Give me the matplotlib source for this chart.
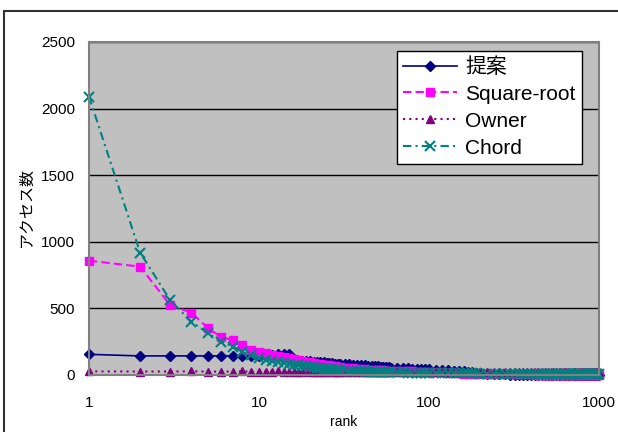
import numpy as np
import matplotlib.pyplot as plt
from matplotlib.patches import Rectangle

plt.rcParams['font.family'] = ['Liberation Sans', 'Noto Sans CJK JP', 'DejaVu Sans']

# rank (sumbu x)
rank = np.concatenate([np.arange(1, 31), np.arange(32, 61, 2), np.arange(65, 101, 5),
                       np.arange(110, 201, 10), np.arange(220, 1001, 20)])

teian = [155, 143, 143, 143, 143, 143, 143, 143, 143, 143, 145, 148, 155, 160, 158,
         120, 105, 104, 103, 102, 100, 98, 96, 94, 92, 90, 88, 86, 85, 84,
         82, 80, 78, 76, 74, 72, 70, 68, 66, 64, 62, 60, 58, 57, 56,
         54, 52, 50, 48, 46, 45, 44, 42,
         40, 38, 35, 32, 30, 27, 24, 20, 16, 12,
         8, 6, 5, 4, 3, 3, 2, 2, 2, 2, 2, 2, 1, 1, 1, 1, 1, 1, 1, 1,
         1, 1, 1, 1, 1, 1, 1, 1, 1, 1, 1, 1, 1, 1, 1, 1, 1, 1, 1, 1]

square_root = [858, 813, 525, 468, 353, 283, 263, 225, 188, 175, 163, 152, 142, 133, 125,
               118, 112, 106, 100, 95, 90, 86, 82, 78, 75, 72, 69, 66, 63, 60,
               56, 53, 50, 47, 45, 43, 41, 39, 37, 36, 35, 34, 33, 32, 31,
               30, 29, 28, 27, 26, 25, 24, 23,
               21, 19, 17, 15, 13, 11, 9, 8, 7, 6,
               5, 5, 5, 4, 4, 4, 4, 4, 4, 4, 3, 3, 3, 3, 3, 3, 3, 3, 3, 3,
               3, 3, 3, 3, 3, 3, 3, 3, 3, 3, 3, 3, 3, 3, 3, 3, 3, 3, 3, 3]

owner = [27, 26, 26, 27, 26, 25, 26, 27, 25, 26, 26, 25, 27, 26, 25,
         26, 25, 26, 27, 25, 26, 25, 26, 25, 26, 27, 25, 26, 25, 26,
         25, 26, 25, 26, 25, 26, 25, 25, 26, 25, 25, 26, 25, 25, 26,
         25, 25, 26, 25, 25, 25, 26, 25,
         25, 25, 26, 25, 25, 25, 25, 26, 25, 25,
         25, 25, 25, 26, 25, 25, 25, 25, 25, 26, 25, 25, 25, 25, 25, 25, 26, 25, 25, 25,
         25, 25, 25, 25, 26, 25, 25, 25, 25, 25, 25, 25, 26, 25, 25, 25, 25, 25, 25, 25]

chord = [2090, 918, 563, 400, 315, 250, 213, 175, 150, 125, 115, 105, 97, 90, 84,
         78, 73, 68, 64, 60, 57, 54, 51, 48, 46, 44, 42, 40, 38, 36,
         34, 32, 30, 29, 28, 27, 26, 25, 24, 23, 22, 22, 21, 21, 20,
         20, 19, 18, 18, 17, 17, 16, 16,
         15, 15, 14, 14, 13, 13, 12, 12, 12, 11,
         11, 11, 11, 10, 10, 10, 10, 10, 10, 10, 10, 10, 10, 9, 9, 9, 9, 9, 9, 9,
         9, 9, 9, 9, 9, 9, 9, 9, 9, 9, 9, 9, 9, 9, 9, 9, 9, 9, 9, 9]

fig = plt.figure(figsize=(6.18, 4.32), dpi=100)
ax = fig.add_axes([0.144, 0.132, 0.825, 0.771])
ax.set_facecolor('#C0C0C0')

ax.plot(rank, teian, color='#000080', lw=1.2, marker='D', ms=5, label='提案', clip_on=False)
ax.plot(rank, square_root, color='#FF00FF', lw=1.5, dashes=(4, 2), marker='s', ms=5.5,
        label='Square-root', clip_on=False)
ax.plot(rank, owner, color='#800080', lw=1.5, dashes=(1, 2), marker='^', ms=6,
        label='Owner', clip_on=False)
ax.plot(rank, chord, color='#008080', lw=1.5, dashes=(4, 2, 1, 2), marker='x', ms=6.5,
        mew=1.5, label='Chord', clip_on=False)

ax.set_xscale('log')
ax.set_xlim(1, 1000)
ax.set_ylim(0, 2500)
ax.set_xticks([1, 10, 100, 1000])
ax.set_xticklabels(['1', '10', '100', '1000'])
ax.xaxis.set_minor_locator(plt.NullLocator())
ax.set_yticks(np.arange(0, 2501, 500))
ax.yaxis.grid(True, color='black', lw=1)
ax.set_axisbelow(True)
ax.tick_params(axis='x', length=0, pad=15, labelsize=11)
ax.tick_params(axis='y', length=0, pad=10, labelsize=11)
for s in ax.spines.values():
    s.set_color('#808080')
    s.set_linewidth(1.5)

ax.set_xlabel('rank', fontsize=10, labelpad=4)
ax.set_ylabel('アクセス数', fontsize=11.5, labelpad=5)

leg = ax.legend(loc='upper right', bbox_to_anchor=(0.967, 0.973), fontsize=15,
                fancybox=False, framealpha=1, edgecolor='black', handlelength=2.6,
                labelspacing=0.38, borderpad=0.3, handletextpad=0.4, borderaxespad=0)
leg.get_frame().set_linewidth(1)

# bingkai luar
fig.patches.append(Rectangle((4 / 618, -0.1), 1.2, 1 - 11 / 432 + 0.1, transform=fig.transFigure,
                             fill=False, edgecolor='#333333', lw=1.5))

fig.savefig('out.png', dpi=100)
